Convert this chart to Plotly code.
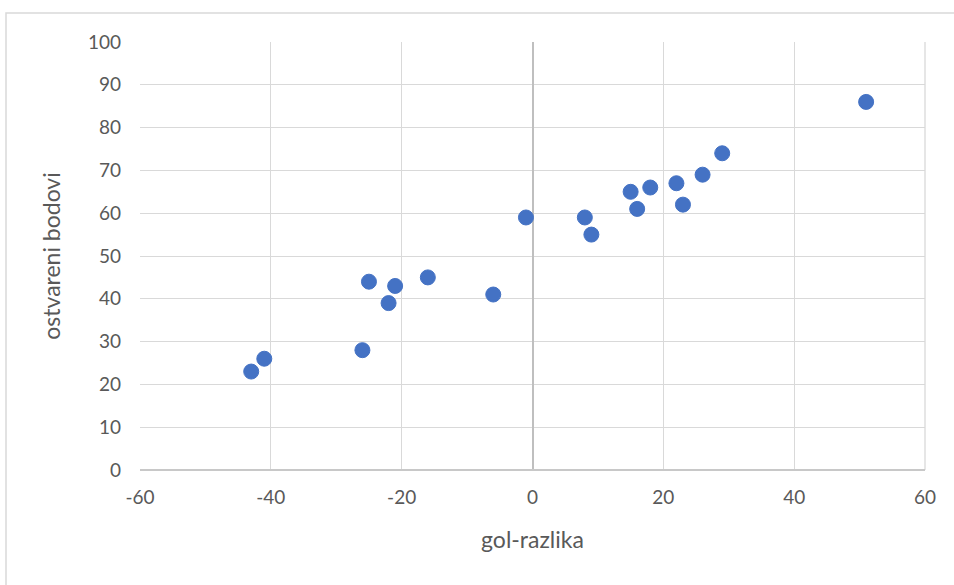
import plotly.graph_objects as go

gol_razlika = [51, 29, 26, 22, 23, 18, 15, 16, 8, 9, -1, -6, -16, -21, -25, -22, -26, -41, -43]
bodovi = [86, 74, 69, 67, 62, 66, 65, 61, 59, 55, 59, 41, 45, 43, 44, 39, 28, 26, 23]

x_ticks = [-60, -40, -20, 0, 20, 40, 60]
y_ticks = [0, 10, 20, 30, 40, 50, 60, 70, 80, 90, 100]

FONT = "Lato, Carlito, Calibri, sans-serif"

fig = go.Figure()
fig.add_trace(go.Scatter(
    x=gol_razlika, y=bodovi, mode="markers",
    marker=dict(size=15, color="#4472C4", line=dict(width=1, color="#4472C4")),
    showlegend=False, hoverinfo="x+y",
))

fig.update_layout(
    width=954, height=585,
    margin=dict(l=140, r=29, t=42, b=115),
    paper_bgcolor="white", plot_bgcolor="white",
    font=dict(family=FONT, size=19, color="#595959"),
    xaxis=dict(
        range=[-60, 60], tickvals=x_ticks, ticktext=[str(v) for v in x_ticks],
        showgrid=True, gridcolor="#d9d9d9", gridwidth=1.3,
        zeroline=True, zerolinecolor="#bfbfbf", zerolinewidth=1.5,
        showline=False, ticks="", ticklabelstandoff=14,
        title=dict(text="gol-razlika", font=dict(size=23, color="#595959"), standoff=24),
    ),
    yaxis=dict(
        range=[0, 100], tickvals=y_ticks, ticktext=[str(v) for v in y_ticks],
        showgrid=True, gridcolor="#d9d9d9", gridwidth=1.3,
        zeroline=True, zerolinecolor="#c8c8c8", zerolinewidth=1.5,
        showline=False, ticks="", ticklabelstandoff=18,
        title=dict(text="ostvareni bodovi", font=dict(size=23, color="#595959"), standoff=20),
    ),
    shapes=[
        dict(type="rect", xref="paper", yref="paper",
             x0=-0.1707, x1=1.06, y0=-0.35, y1=1.0678,
             line=dict(color="#d9d9d9", width=1.5), fillcolor="rgba(0,0,0,0)", layer="below"),
        dict(type="line", xref="paper", yref="paper", x0=1, x1=1, y0=0, y1=1,
             line=dict(color="#d9d9d9", width=1.3), layer="below"),
    ],
)

fig.write_html(
    "out.html",
    config={"displayModeBar": False},
    post_script="document.body.style.margin='0';document.body.style.overflow='hidden';",
)
